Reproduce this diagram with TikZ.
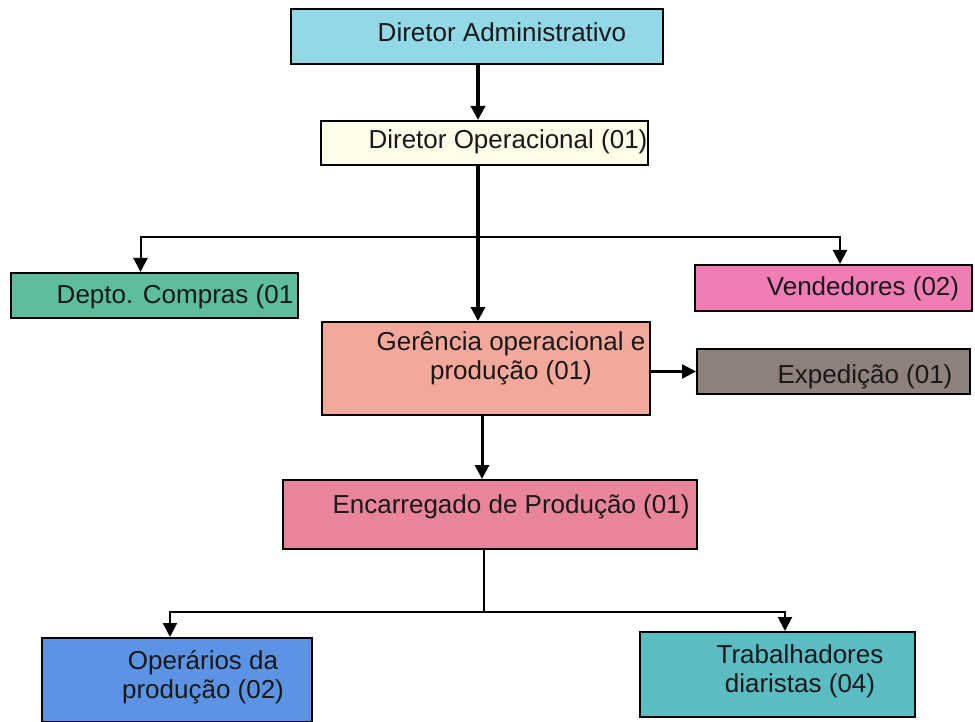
\documentclass[tikz,border=0pt]{standalone}
\usepackage{fontspec}
\setmainfont{Liberation Sans}
\usetikzlibrary{arrows.meta}
\definecolor{cA}{HTML}{93D8E6}
\definecolor{cB}{HTML}{FFFCEA}
\definecolor{cC}{HTML}{5EBE9C}
\definecolor{cD}{HTML}{F07DB4}
\definecolor{cE}{HTML}{F2A99C}
\definecolor{cF}{HTML}{8E807A}
\definecolor{cG}{HTML}{E8859A}
\definecolor{cH}{HTML}{5C93E4}
\definecolor{cI}{HTML}{5CBCC4}
\begin{document}
\begin{tikzpicture}[x=1pt,y=-1pt,
  box/.style={draw=black, line width=2pt, inner sep=0pt},
  lbl/.style={font=\fontsize{26}{29}\selectfont, align=center, inner sep=0pt, text=black!90},
  arr/.style={-{Triangle[width=14pt,length=14pt]}, line width=2pt}]
\useasboundingbox (0,0) rectangle (975,722);
% boxes
\node[box, fill=cA, minimum width=372pt, minimum height=55pt] (da) at (477,36.5) {};
\node[box, fill=cB, minimum width=327pt, minimum height=44pt] (dop) at (484.5,143) {};
\node[box, fill=cC, minimum width=287pt, minimum height=45pt] (dep) at (154.5,295.5) {};
\node[box, fill=cD, minimum width=277pt, minimum height=46pt] (ven) at (833.5,288) {};
\node[box, fill=cE, minimum width=328pt, minimum height=93pt] (ger) at (486,368.5) {};
\node[box, fill=cF, minimum width=273pt, minimum height=45pt] (exp) at (833.5,371.5) {};
\node[box, fill=cG, minimum width=414pt, minimum height=69pt] (enc) at (490,514.5) {};
\node[box, fill=cH, minimum width=270pt, minimum height=84pt] (ope) at (177,680) {};
\node[box, fill=cI, minimum width=275pt, minimum height=85pt] (tra) at (777.5,674.5) {};
% labels
\node[lbl, anchor=base] (tda) at (502,42) {Diretor Administrativo};
\node[lbl, anchor=base] (tdop) at (508,149) {Diretor Operacional (01)};
\node[lbl, anchor=base] (tdep) at (175,303) {Depto. Compras (01};
\node[lbl, anchor=base] (tven) at (863,295) {Vendedores (02)};
\node[lbl] (tger) at (511,358) {Gerência operacional e\\produção (01)};
\node[lbl, anchor=base] (texp) at (865,383) {Expedição (01)};
\node[lbl, anchor=base] (tenc) at (511,513) {Encarregado de Produção (01)};
\node[lbl] (tope) at (203,677) {Operários da\\produção (02)};
\node[lbl] (ttra) at (800,671) {Trabalhadores\\diaristas (04)};
% connectors
\coordinate (tx) at (478,0);
\coordinate (tx2) at (482,0);
\coordinate (j1) at (478,237);
\coordinate (j2) at (484,612);
\draw[arr, line width=4pt] (da.south -| tx) -- (dop.north -| tx);
\draw[arr, line width=4.5pt] (dop.south -| tx) -- (ger.north -| tx);
\draw[arr] (j1) -| ([xshift=-14pt]dep.north);
\draw[arr] (j1) -| ([xshift=6.5pt]ven.north);
\draw[arr, line width=2.5pt] (ger.east |- exp.west) -- (exp.west);
\draw[arr, line width=3pt] (ger.south -| tx2) -- (enc.north -| tx2);
\draw[line width=1.5pt] (enc.south -| j2) -- (j2);
\draw[arr] (j2) -| ([xshift=-7pt]ope.north);
\draw[arr] (j2) -| ([xshift=7.5pt]tra.north);
\end{tikzpicture}
\end{document}
